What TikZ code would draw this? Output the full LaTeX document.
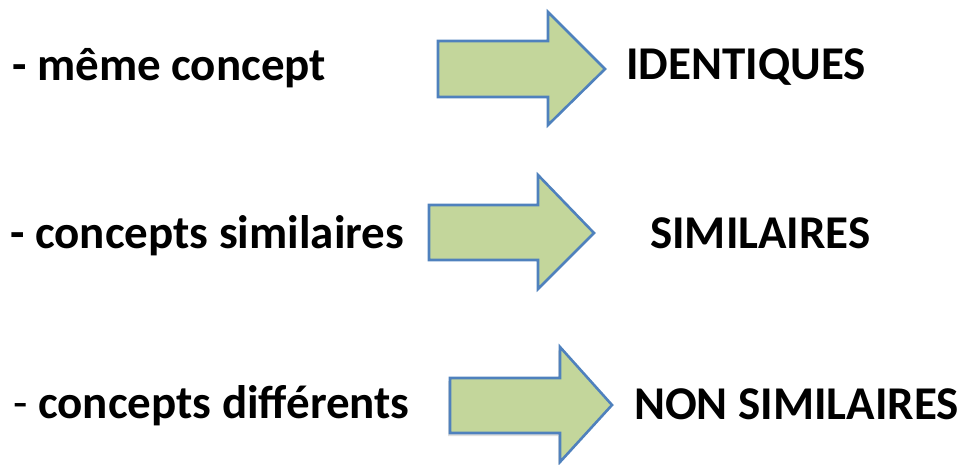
\documentclass[tikz,border=0pt]{standalone}
\usepackage{fontspec}
\setmainfont{Carlito}
\usetikzlibrary{shadows}
\definecolor{arrowfill}{HTML}{C3D69B}
\definecolor{arrowline}{HTML}{4F81BD}

\tikzset{
	lbl/.style={anchor=base west,inner sep=0pt,font=\fontsize{47}{56}\selectfont\bfseries},
	bigarrow/.style={draw=arrowline,fill=arrowfill,line width=2.6pt,line join=miter}
}

\begin{document}
\begin{tikzpicture}[x=1pt,y=-1pt]
		\useasboundingbox (0,0) rectangle (962,464);

		% left column
		\node[lbl] (same) at (12, 80) {- même concept};
		\node[lbl] (simi) at (10,248) {- concepts similaires};
		\node[lbl] (diff) at (13,418) {{\mdseries -} concepts différents};

		% right column
		\node[lbl] (ident)  at (626, 79) {IDENTIQUES};
		\node[lbl] (simres) at (650,248) {SIMILAIRES};
		\node[lbl] (nonsim) at (634,419) {NON SIMILAIRES};

		% block arrows
		\draw[bigarrow] (438, 41) -- (548, 41) -- (548, 12) -- (605, 69)
			-- (548,125) -- (548, 97) -- (438, 97) -- cycle;
		\draw[bigarrow] (429,205) -- (538,205) -- (538,175) -- (594,233)
			-- (538,289) -- (538,260) -- (429,260) -- cycle;
		\draw[bigarrow,drop shadow={shadow xshift=-2pt,shadow yshift=-3pt,opacity=0.25}]
			(450,378) -- (560,378) -- (560,347) -- (612,405)
			-- (560,462) -- (560,433) -- (450,433) -- cycle;

\end{tikzpicture}
\end{document}
